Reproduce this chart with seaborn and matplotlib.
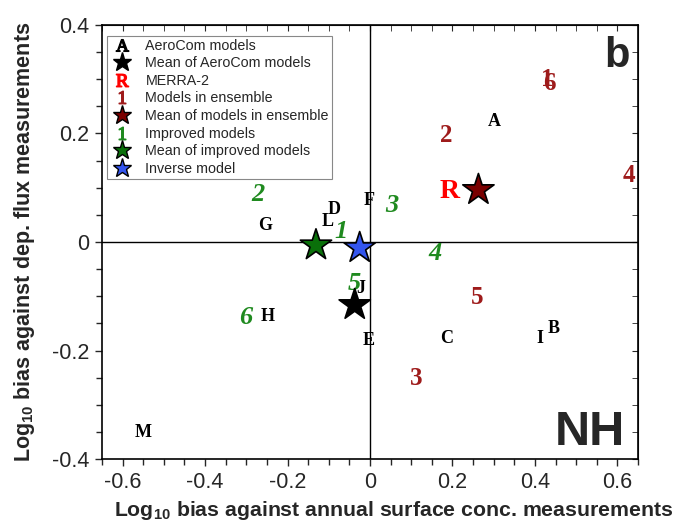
import matplotlib
matplotlib.use('Agg')
import matplotlib.pyplot as plt
import seaborn as sns
import pandas as pd
from matplotlib.lines import Line2D
from matplotlib.ticker import MultipleLocator

# AeroCom models (black letters)
aero_labels = ['A', 'B', 'C', 'D', 'E', 'F', 'G', 'H', 'I', 'J', 'L', 'M']
aero_x = [0.302, 0.446, 0.185, -0.088, -0.003, -0.003, -0.254, -0.249, 0.412, -0.023, -0.102, -0.550]
aero_y = [0.222, -0.159, -0.177, 0.059, -0.181, 0.076, 0.031, -0.138, -0.177, -0.085, 0.037, -0.352]

# MERRA-2
merra_x = [0.194]
merra_y = [0.093]

# models in ensemble (dark red numbers)
ens_labels = ['1', '2', '3', '4', '5', '6']
ens_x = [0.429, 0.185, 0.112, 0.627, 0.261, 0.434]
ens_y = [0.300, 0.197, -0.251, 0.122, -0.103, 0.293]

# improved models (green italic numbers)
imp_labels = ['1', '2', '3', '4', '5', '6']
imp_x = [-0.071, -0.271, 0.054, 0.158, -0.037, -0.302]
imp_y = [0.020, 0.087, 0.068, -0.022, -0.076, -0.140]

# means / inverse model (stars)
star_names = ['Mean of AeroCom models', 'Mean of models in ensemble',
              'Mean of improved models', 'Inverse model']
star_x = [-0.037, 0.263, -0.131, -0.025]
star_y = [-0.116, 0.096, -0.006, -0.011]

c_dred = '#9e1b1b'
c_green = '#1f8a1f'
star_colors = ['#000000', '#7a0000', '#0a700a', '#3355ee']

sns.set_style('ticks')
plt.rcParams['font.family'] = ['Liberation Sans', 'DejaVu Sans']
plt.rcParams['mathtext.fontset'] = 'custom'
plt.rcParams['mathtext.rm'] = 'Liberation Serif'
plt.rcParams['mathtext.it'] = 'Liberation Serif:italic'
plt.rcParams['mathtext.bf'] = 'Liberation Serif:bold'
plt.rcParams['mathtext.sf'] = 'Liberation Sans:bold'

fig = plt.figure(figsize=(6.78, 5.25), dpi=100)
ax = fig.add_axes([0.1504, 0.1257, 0.7906, 0.8267])

ax.axhline(0, color='black', lw=1, zorder=1)
ax.axvline(0, color='black', lw=1, zorder=1)

serif = 'Liberation Serif'
for lab, x, y in zip(aero_labels, aero_x, aero_y):
    ax.text(x, y, lab, color='black', fontsize=13, fontweight='bold', family=serif,
            ha='center', va='center', zorder=3)
for x, y in zip(merra_x, merra_y):
    ax.text(x, y, 'R', color='#ff0000', fontsize=20, fontweight='bold', family=serif,
            ha='center', va='center', zorder=3)
for lab, x, y in zip(ens_labels, ens_x, ens_y):
    ax.text(x, y, lab, color=c_dred, fontsize=18, fontweight='bold', family=serif,
            ha='center', va='center', zorder=3)
for lab, x, y in zip(imp_labels, imp_x, imp_y):
    ax.text(x, y, lab, color=c_green, fontsize=19, fontweight='bold', style='italic',
            family=serif, ha='center', va='center', zorder=3)

stars = pd.DataFrame({'x': star_x, 'y': star_y, 'name': star_names})
sns.scatterplot(data=stars, x='x', y='y', hue='name', palette=star_colors,
                marker='*', s=560, edgecolor='black', linewidth=1.2,
                legend=False, ax=ax, zorder=4)

ax.set_xlim(-0.65, 0.65)
ax.set_ylim(-0.4, 0.4)
ax.xaxis.set_major_locator(MultipleLocator(0.2))
ax.xaxis.set_minor_locator(MultipleLocator(0.05))
ax.yaxis.set_major_locator(MultipleLocator(0.2))
ax.yaxis.set_minor_locator(MultipleLocator(0.05))
ax.xaxis.set_major_formatter(lambda v, p: '0' if abs(v) < 1e-9 else f'{v:.1f}')
ax.yaxis.set_major_formatter(lambda v, p: '0' if abs(v) < 1e-9 else f'{v:.1f}')
ax.tick_params(which='major', direction='out', length=5, width=1, labelsize=15.5, pad=4)
ax.tick_params(which='minor', direction='out', length=4, width=1)
for s in ax.spines.values():
    s.set_linewidth(1.2)
    s.set_color('black')

top = ax.secondary_xaxis('top')
top.xaxis.set_major_locator(MultipleLocator(0.2))
top.xaxis.set_minor_locator(MultipleLocator(0.05))
top.tick_params(which='both', direction='in', length=4, labeltop=False)
right = ax.secondary_yaxis('right')
right.yaxis.set_major_locator(MultipleLocator(0.2))
right.yaxis.set_minor_locator(MultipleLocator(0.05))
right.tick_params(which='both', direction='in', length=4, labelright=False)

ax.set_xlabel(r'Log$_{\mathsf{10}}$ bias against annual surface conc. measurements',
              fontsize=15.3, fontweight='bold')
ax.set_ylabel(r'Log$_{\mathsf{10}}$ bias against dep. flux measurements',
              fontsize=15.5, fontweight='bold')
ax.xaxis.set_label_coords(0.545, -0.092)
ax.yaxis.set_label_coords(-0.121, 0.5)

ax.text(0.985, 0.903, 'b', transform=ax.transAxes, ha='right', va='baseline',
        fontsize=30, fontweight='bold')
ax.text(0.976, 0.032, 'NH', transform=ax.transAxes, ha='right', va='baseline',
        fontsize=35, fontweight='bold')

handles = [
    Line2D([], [], ls='none', marker=r'$\mathrm{A}$', color='black', markersize=9),
    Line2D([], [], ls='none', marker='*', markerfacecolor=star_colors[0],
           markeredgecolor='black', markersize=14),
    Line2D([], [], ls='none', marker=r'$\mathrm{R}$', color='#ff0000', markersize=9),
    Line2D([], [], ls='none', marker=r'$\mathrm{1}$', color=c_dred, markersize=9),
    Line2D([], [], ls='none', marker='*', markerfacecolor=star_colors[1],
           markeredgecolor='black', markersize=14),
    Line2D([], [], ls='none', marker=r'$\mathit{1}$', color=c_green, markersize=9),
    Line2D([], [], ls='none', marker='*', markerfacecolor=star_colors[2],
           markeredgecolor='black', markersize=14),
    Line2D([], [], ls='none', marker='*', markerfacecolor=star_colors[3],
           markeredgecolor='black', markersize=14),
]
labels = ['AeroCom models', 'Mean of AeroCom models', 'MERRA-2', 'Models in ensemble',
          'Mean of models in ensemble', 'Improved models', 'Mean of improved models',
          'Inverse model']
leg = ax.legend(handles, labels, loc='upper left', bbox_to_anchor=(0.009, 0.975),
                borderaxespad=0, fontsize=10.3, labelspacing=0.25, borderpad=0.2,
                handlelength=1.7, handletextpad=0.8, fancybox=False, framealpha=1,
                edgecolor='#888888')
leg.get_frame().set_linewidth(0.8)

fig.savefig('out.png', dpi=100)
